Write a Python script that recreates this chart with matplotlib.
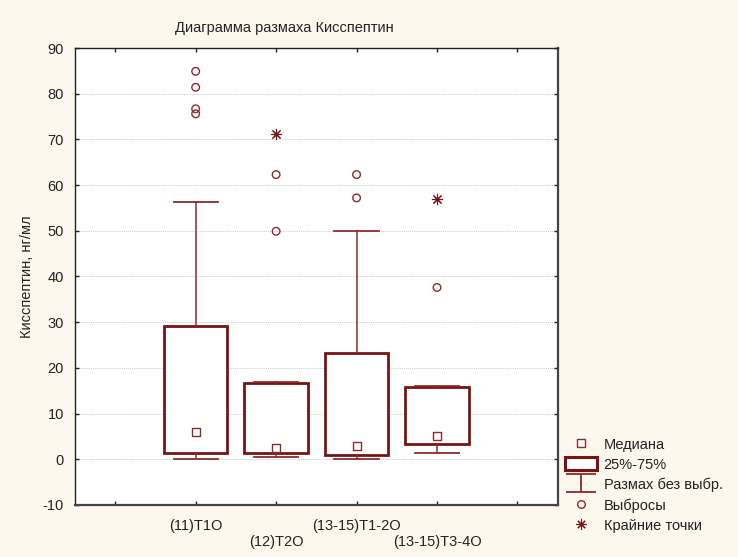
import matplotlib.pyplot as plt
from matplotlib.lines import Line2D
from matplotlib.patches import Patch
from matplotlib.path import Path

plt.rcParams['font.family'] = ['Liberation Sans', 'DejaVu Sans']
plt.rcParams['axes.unicode_minus'] = False

# data
groups = ["(11)T1O", "(12)T2O", "(13-15)T1-2O", "(13-15)T3-4O"]
medians = [6.0, 2.5, 2.8, 5.1]
q1 = [1.4, 1.4, 1.0, 3.4]
q3 = [29.1, 16.6, 23.3, 15.9]
whisk_lo = [0.0, 0.5, 0.0, 1.3]
whisk_hi = [56.3, 16.9, 50.0, 16.1]
outliers = [[84.9, 81.4, 76.7, 75.6], [62.3, 49.9], [62.3, 57.2], [37.6]]
extremes = [[], [71.2], [], [56.9]]

red = '#7a1414'
red_light = '#8e2b2b'
bg = '#fdf8ee'

positions = [1, 2, 3, 4]

fig = plt.figure(figsize=(7.38, 5.57), dpi=100, facecolor=bg)
ax = fig.add_axes([0.1016, 0.0934, 0.6541, 0.8204])
ax.set_facecolor('white')

stats = []
for i in range(len(groups)):
    stats.append(dict(med=medians[i], q1=q1[i], q3=q3[i],
                      whislo=whisk_lo[i], whishi=whisk_hi[i], label=groups[i]))

ax.bxp(stats, positions=positions, widths=0.79, capwidths=0.55,
       showfliers=False, patch_artist=True,
       boxprops=dict(facecolor='white', edgecolor=red, linewidth=2.0),
       whiskerprops=dict(color=red_light, linewidth=1.1),
       capprops=dict(color=red_light, linewidth=1.3),
       medianprops=dict(linestyle='none'), zorder=3)

ax.scatter(positions, medians, marker='s', s=36, facecolor='white',
           edgecolor=red_light, linewidth=1.0, zorder=5)

for p, vals in zip(positions, outliers):
    ax.scatter([p] * len(vals), vals, marker='o', s=30, facecolor='none',
               edgecolor=red_light, linewidth=1.0, zorder=5)
for p, vals in zip(positions, extremes):
    ax.scatter([p] * len(vals), vals, marker=(8, 2, 0), s=55,
               color=red, linewidth=0.8, zorder=5)

ax.set_xlim(-0.5, 5.5)
ax.set_ylim(-10, 90)
ax.set_yticks(range(-10, 91, 10))
ax.set_xticks([0, 1, 2, 3, 4, 5])
ax.set_xticklabels(['', groups[0], '\n' + groups[1], groups[2], '\n' + groups[3], ''])
ax.tick_params(axis='both', direction='in', length=3, width=1, colors='#222222',
               labelsize=10.5, top=True, right=True, labelcolor='#222222')
ax.tick_params(axis='x', pad=10)
ax.tick_params(axis='y', pad=8)
ax.yaxis.grid(True, linestyle=(0, (1, 1)), color='#cccccc', linewidth=0.7)
ax.set_axisbelow(True)
for side in ['left', 'top']:
    ax.spines[side].set_linewidth(1.0)
    ax.spines[side].set_color('#222222')
for side in ['right', 'bottom']:
    ax.spines[side].set_linewidth(1.6)
    ax.spines[side].set_color('#444444')

ax.set_ylabel('Кисспептин, нг/мл', fontsize=10.5, color='#222222', labelpad=6)
fig.text(284 / 738, 1 - 28 / 557, 'Диаграмма размаха Кисспептин',
         ha='center', va='center', fontsize=10.5, color='#222222')

# legend
ibeam = Path([(-1, 0.6), (1, 0.6), (0, 0.6), (0, -0.6), (-1, -0.6), (1, -0.6)],
             [Path.MOVETO, Path.LINETO, Path.MOVETO, Path.LINETO, Path.MOVETO, Path.LINETO])
handles = [
    Line2D([], [], ls='none', marker='s', markersize=6, markerfacecolor='white',
           markeredgecolor=red_light, markeredgewidth=1.0),
    Patch(facecolor='white', edgecolor=red, linewidth=2.2),
    Line2D([], [], ls='none', marker=ibeam, markersize=22, color=red_light,
           markeredgewidth=1.3),
    Line2D([], [], ls='none', marker='o', markersize=5.5, markerfacecolor='none',
           markeredgecolor=red_light, markeredgewidth=1.0),
    Line2D([], [], ls='none', marker=(8, 2, 0), markersize=7.5, color=red,
           markeredgewidth=0.8),
]
labels = ['Медиана', '25%-75%', 'Размах без выбр.', 'Выбросы', 'Крайние точки']
fig.legend(handles, labels, loc='upper left', bbox_to_anchor=(565 / 738, 1 - 437 / 557),
           frameon=False, fontsize=10.5, handlelength=2.2, handleheight=1.0,
           labelspacing=0.4, handletextpad=0.45, borderpad=0, borderaxespad=0,
           labelcolor='#222222')

fig.savefig('out.png', dpi=100, facecolor=bg)
